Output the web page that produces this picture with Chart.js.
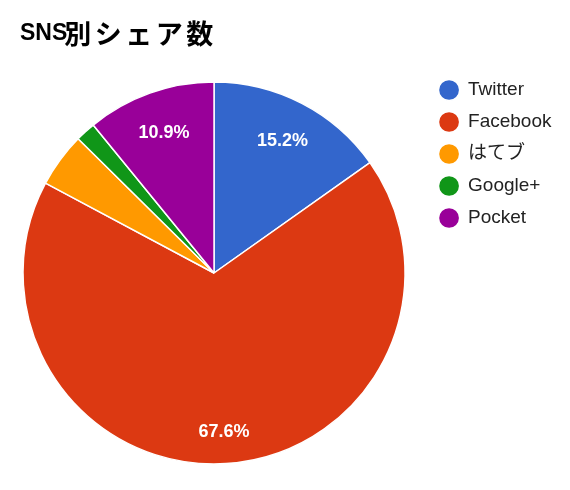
<!DOCTYPE html>
<html>
<head>
<meta charset="utf-8">
<script src="https://cdn.jsdelivr.net/npm/chart.js@4"></script>
<style>
  html, body { margin: 0; padding: 0; background: #fff; }
  #wrap { width: 570px; height: 490px; }
</style>
</head>
<body>
<div id="wrap"><canvas id="snsChart"></canvas></div>
<script>
var chartTitle = 'SNS別シェア数';
var snsLabels = ['Twitter', 'Facebook', 'はてブ', 'Google+', 'Pocket'];
var shareValues = [15.2, 67.6, 4.6, 1.7, 10.9];
var sliceColors = ['#3366cc', '#dc3912', '#ff9900', '#109618', '#990099'];

// title: latin part and japanese part get their own font
var titlePlugin = {
  id: 'snsTitle',
  afterDraw: function(chart) {
    var ctx = chart.ctx;
    var parts = chartTitle.match(/^([\x00-\x7F]*)(.*)$/);
    ctx.save();
    ctx.fillStyle = '#000';
    ctx.textAlign = 'left';
    ctx.textBaseline = 'alphabetic';
    ctx.font = 'bold 23px "Liberation Sans", Arial, sans-serif';
    ctx.fillText(parts[1], 20, 40);
    var x = 20 + ctx.measureText(parts[1]).width - 3;
    ctx.font = 'bold 27px "Noto Sans CJK JP", sans-serif';
    ctx.letterSpacing = '3.5px';
    ctx.textBaseline = 'middle';
    ctx.fillText(parts[2], x, 34);
    ctx.restore();
  }
};

// percentage text inside the bigger slices
var sliceLabelPlugin = {
  id: 'sliceLabels',
  afterDatasetsDraw: function(chart) {
    var ctx = chart.ctx;
    var meta = chart.getDatasetMeta(0);
    var data = chart.data.datasets[0].data;
    var total = data.reduce(function(a, b) { return a + b; }, 0);
    ctx.save();
    ctx.fillStyle = '#fff';
    ctx.textAlign = 'center';
    ctx.textBaseline = 'middle';
    ctx.font = 'bold 18px "Liberation Sans", Arial, sans-serif';
    meta.data.forEach(function(arc, i) {
      var share = data[i] / total;
      if (share < 0.05) return;
      var p = arc.getProps(['x', 'y', 'startAngle', 'endAngle', 'outerRadius'], true);
      var mid = (p.startAngle + p.endAngle) / 2;
      var r = p.outerRadius * (share > 0.5 ? 0.835 : 0.78);
      ctx.fillText((share * 100).toFixed(1) + '%', p.x + Math.cos(mid) * r, p.y + Math.sin(mid) * r);
    });
    ctx.restore();
  }
};

var chart = new Chart(document.getElementById('snsChart'), {
  type: 'pie',
  data: {
    labels: snsLabels,
    datasets: [{
      data: shareValues,
      backgroundColor: sliceColors,
      borderColor: '#fff',
      borderWidth: 1.5
    }]
  },
  options: {
    responsive: true,
    maintainAspectRatio: false,
    animation: false,
    radius: 191,
    layout: {
      padding: { top: 67.5, bottom: 11.5, left: 1.5, right: 8.5 }
    },
    plugins: {
      title: { display: false },
      tooltip: { enabled: false },
      legend: {
        position: 'right',
        align: 'start',
        labels: {
          usePointStyle: true,
          pointStyle: 'circle',
          boxWidth: 19,
          boxHeight: 15,
          padding: 13,
          color: '#222',
          font: { size: 19, family: '"Liberation Sans", Arial, "Noto Sans CJK JP", sans-serif' }
        }
      }
    }
  },
  plugins: [titlePlugin, sliceLabelPlugin]
});
</script>
</body>
</html>
